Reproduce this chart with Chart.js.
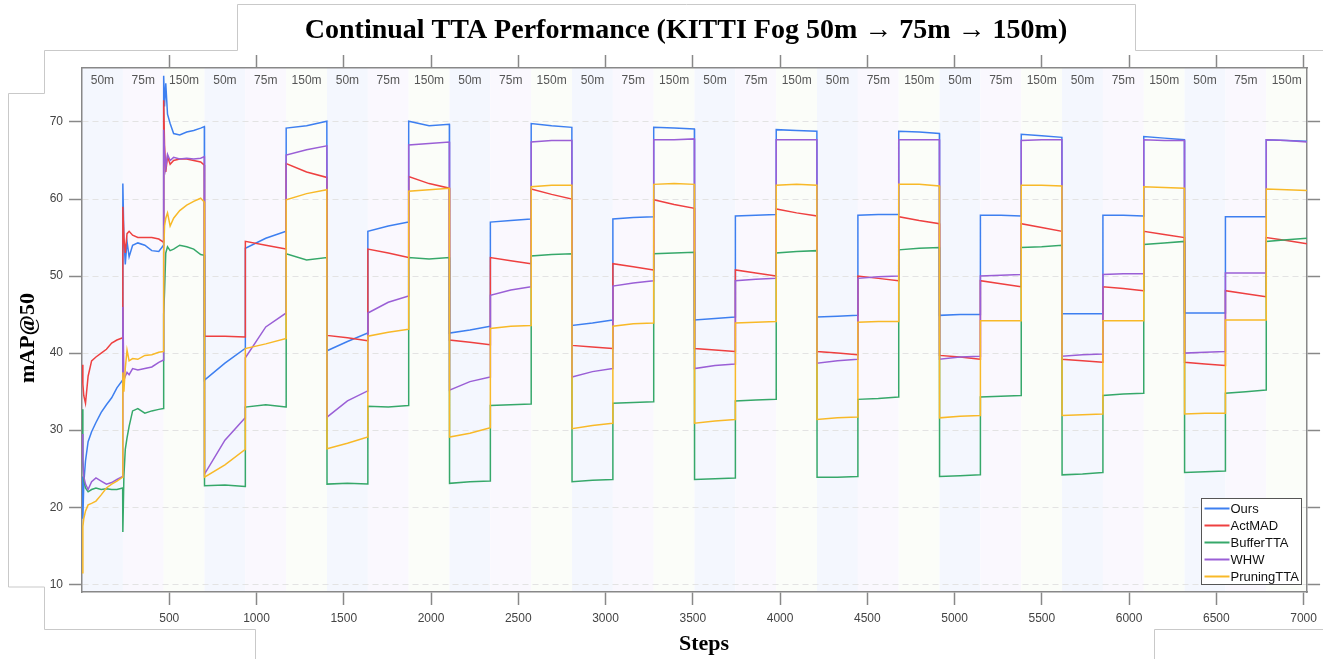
<!DOCTYPE html>
<html lang="en">
<head>
<meta charset="UTF-8">
<title>Continual TTA Performance</title>
<script src="https://cdn.jsdelivr.net/npm/chart.js"></script>
<style>
  * { margin: 0; padding: 0; box-sizing: border-box; }
  body { background: #fff; width: 1323px; height: 659px; overflow: hidden; }
  canvas { display: block; }
</style>
</head>
<body>
<canvas id="tta" width="1323" height="659"></canvas>
<script>
// sampled steps: dense in the first cycle, then start / middle / end of every phase
const steps = [
  0, 5, 10, 20, 35, 55, 80, 110, 140, 170, 200, 233,
  234, 240, 248, 258, 270, 290, 320, 360, 400, 440, 467,
  468, 473, 480, 490, 505, 525, 560, 600, 640, 680, 701,
  702, 819, 935, 936, 1053, 1169, 1170, 1287, 1403,
  1404, 1521, 1637, 1638, 1755, 1871, 1872, 1989, 2105,
  2106, 2223, 2339, 2340, 2457, 2573, 2574, 2691, 2807,
  2808, 2925, 3041, 3042, 3159, 3275, 3276, 3393, 3509,
  3510, 3627, 3743, 3744, 3861, 3977, 3978, 4095, 4211,
  4212, 4329, 4445, 4446, 4563, 4679, 4680, 4797, 4913,
  4914, 5031, 5147, 5148, 5265, 5381, 5382, 5499, 5615,
  5616, 5733, 5849, 5850, 5967, 6083, 6084, 6201, 6317,
  6318, 6435, 6551, 6552, 6669, 6785, 6786, 6903, 7019
];

const ours = [
  24, 18.5, 23, 26, 28.5, 29.8, 31, 32.3, 33.3, 34.2, 35.5, 36.5,
  62, 55, 51.5, 54.5, 52.5, 54, 54.3, 54, 53.3, 53.2, 54,
  76, 72, 75, 71, 69.8, 68.5, 68.3, 68.7, 68.9, 69.2, 69.4,
  36.5, 38.7, 40.6, 53.6, 54.9, 55.8, 69.2, 69.5, 70.1,
  40.3, 41.5, 42.6, 55.8, 56.5, 57.0, 70.1, 69.5, 69.7,
  42.6, 43.0, 43.5, 57.0, 57.2, 57.4, 69.8, 69.5, 69.3,
  43.6, 43.9, 44.3, 57.4, 57.6, 57.7, 69.3, 69.2, 69.1,
  44.3, 44.5, 44.7, 57.8, 57.9, 58.0, 69.0, 68.9, 68.8,
  44.7, 44.8, 44.9, 57.9, 58.0, 58.0, 68.8, 68.7, 68.5,
  44.9, 45.0, 45.0, 57.9, 57.9, 57.8, 68.4, 68.2, 68.0,
  45.1, 45.1, 45.1, 57.9, 57.9, 57.8, 68.1, 67.9, 67.7,
  45.2, 45.2, 45.2, 57.7, 57.7, 57.7, 67.7, 67.6, 67.5
];

const actmad = [
  38.5, 36, 34.5, 33.5, 37, 39, 39.5, 40, 40.5, 41.3, 41.7, 42,
  59, 55, 53, 55.5, 55.8, 55.3, 55, 55, 55, 54.8, 54.4,
  72.8, 67, 63.5, 65.5, 64.5, 65, 65.2, 65.2, 65, 64.8, 64.4,
  42.2, 42.2, 42.1, 54.5, 54.0, 53.5, 64.6, 63.5, 62.8,
  42.3, 42.0, 41.6, 53.5, 53.0, 52.4, 62.9, 62.0, 61.4,
  41.7, 41.4, 41.1, 52.4, 52.0, 51.6, 61.3, 60.6, 60.0,
  41.0, 40.8, 40.6, 51.6, 51.2, 50.8, 59.9, 59.3, 58.8,
  40.6, 40.4, 40.2, 50.8, 50.4, 50.0, 58.7, 58.2, 57.8,
  40.2, 40.0, 39.8, 50.0, 49.7, 49.4, 57.7, 57.2, 56.8,
  39.7, 39.5, 39.2, 49.4, 49.0, 48.6, 56.8, 56.3, 55.8,
  39.2, 39.0, 38.8, 48.6, 48.4, 48.1, 55.8, 55.4, 55.0,
  38.8, 38.6, 38.4, 48.1, 47.7, 47.3, 55.0, 54.6, 54.2
];

const buffertta = [
  32.7, 26, 23.5, 22.5, 22, 22.3, 22.5, 22.3, 22.4, 22.3, 22.3, 22.5,
  16.8, 24, 27.5, 29, 30.5, 32.5, 32.8, 32.2, 32.5, 32.7, 32.8,
  45, 48, 53, 53.8, 53.3, 53.5, 54, 53.8, 53.5, 52.8, 52.7,
  22.8, 22.9, 22.7, 33.0, 33.3, 33.0, 52.9, 52.1, 52.4,
  23.0, 23.1, 23.0, 33.1, 33.0, 33.2, 52.4, 52.2, 52.4,
  23.1, 23.3, 23.4, 33.2, 33.3, 33.4, 52.6, 52.8, 52.9,
  23.3, 23.5, 23.6, 33.5, 33.6, 33.7, 52.9, 53.0, 53.1,
  23.6, 23.7, 23.8, 33.8, 33.9, 34.0, 53.0, 53.2, 53.3,
  23.9, 23.9, 24.0, 34.0, 34.1, 34.3, 53.4, 53.6, 53.7,
  24.0, 24.1, 24.2, 34.3, 34.4, 34.5, 53.7, 53.8, 54.0,
  24.2, 24.3, 24.5, 34.5, 34.7, 34.8, 54.1, 54.3, 54.5,
  24.5, 24.6, 24.7, 34.8, 35.0, 35.2, 54.5, 54.7, 54.9
];

const whw = [
  29.5, 26, 24, 23, 22.3, 23.3, 23.8, 23.4, 23, 23.2, 23.6, 24,
  46, 36.5, 37, 37.5, 37.2, 38, 37.8, 38, 38.2, 38.8, 39.1,
  69, 66, 64, 65.8, 65, 65.4, 65.2, 65.3, 65.2, 65.3, 65.5,
  24.3, 28.7, 31.6, 39.4, 43.4, 45.2, 65.7, 66.4, 66.9,
  31.7, 33.8, 35.1, 45.2, 46.6, 47.4, 67.0, 67.2, 67.4,
  35.2, 36.3, 36.9, 47.5, 48.2, 48.6, 67.4, 67.6, 67.6,
  36.9, 37.6, 38.0, 48.7, 49.1, 49.4, 67.7, 67.7, 67.8,
  38.0, 38.4, 38.6, 49.4, 49.6, 49.7, 67.7, 67.7, 67.7,
  38.7, 39.0, 39.2, 49.7, 49.9, 50.0, 67.7, 67.7, 67.7,
  39.2, 39.5, 39.6, 50.0, 50.1, 50.2, 67.6, 67.7, 67.7,
  39.6, 39.8, 39.9, 50.2, 50.3, 50.3, 67.7, 67.6, 67.6,
  40.0, 40.1, 40.2, 50.4, 50.4, 50.4, 67.7, 67.6, 67.4
];

const pruningtta = [
  11.5, 17.5, 18.5, 19.5, 20.3, 20.5, 20.8, 21.6, 22.5, 23, 23.4, 23.9,
  37.5, 35, 38, 40.4, 39, 39.3, 39.2, 39.7, 39.8, 40.1, 40.2,
  53, 56.5, 57.5, 58.2, 56.5, 57.5, 58.5, 59.2, 59.7, 60.1, 59.6,
  23.9, 25.5, 27.5, 40.6, 41.2, 41.9, 59.9, 60.7, 61.2,
  27.6, 28.3, 29.1, 42.2, 42.7, 43.1, 61.0, 61.2, 61.4,
  29.1, 29.6, 30.3, 43.2, 43.5, 43.6, 61.6, 61.8, 61.8,
  30.2, 30.6, 30.9, 43.5, 43.8, 43.9, 61.9, 62.0, 61.9,
  30.9, 31.2, 31.4, 43.9, 44.0, 44.1, 61.8, 61.9, 61.8,
  31.4, 31.6, 31.7, 44.0, 44.1, 44.1, 61.9, 61.9, 61.7,
  31.6, 31.8, 31.9, 44.2, 44.2, 44.2, 61.8, 61.8, 61.7,
  31.9, 32.0, 32.1, 44.2, 44.2, 44.2, 61.6, 61.5, 61.4,
  32.1, 32.2, 32.2, 44.3, 44.3, 44.3, 61.3, 61.2, 61.1
];

const seriesNames = ['Ours', 'ActMAD', 'BufferTTA', 'WHW', 'PruningTTA'];
const phases = ['50m', '75m', '150m'];
const phaseLength = 234;
const cycles = 10;
const xTicks = [500, 1000, 1500, 2000, 2500, 3000, 3500, 4000, 4500, 5000, 5500, 6000, 6500, 7000];
const yTicks = [10, 20, 30, 40, 50, 60, 70];

const colors = ['#3d7ff0', '#ee4040', '#36a86a', '#9a5fd6', '#f8b928'];
const bandColors = ['#f4f7fe', '#faf8fe', '#fbfdf9'];
const axisGray = '#888';
const labelFont = 'Liberation Sans, Arial, sans-serif';
const serifFont = '"Liberation Serif", "Times New Roman", serif';

function toPoints(vals) {
  return vals.map((v, i) => ({ x: steps[i], y: v }));
}

const allSeries = [ours, actmad, buffertta, whw, pruningtta];
const datasets = allSeries.map((vals, i) => ({
  label: seriesNames[i],
  data: toPoints(vals),
  borderColor: colors[i],
  borderWidth: 1.5,
  pointRadius: 0,
  tension: 0,
  fill: false,
  order: allSeries.length - i
}));

const fogDecor = {
  id: 'fogDecor',
  beforeDraw(chart) {
    const { ctx, chartArea: a, scales: { x } } = chart;
    ctx.save();
    ctx.fillStyle = '#fff';
    ctx.fillRect(0, 0, chart.width, chart.height);
    for (let k = 0; k < cycles * phases.length; k++) {
      const x0 = x.getPixelForValue(k * phaseLength);
      const x1 = x.getPixelForValue((k + 1) * phaseLength);
      ctx.fillStyle = bandColors[k % phases.length];
      ctx.fillRect(x0, a.top, x1 - x0, a.bottom - a.top);
    }
    ctx.restore();
  },
  beforeDatasetsDraw(chart) {
    const { ctx, chartArea: a, scales: { x } } = chart;
    ctx.save();
    ctx.font = '12px ' + labelFont;
    ctx.fillStyle = '#555';
    ctx.textAlign = 'center';
    ctx.textBaseline = 'middle';
    for (let k = 0; k < cycles * phases.length; k++) {
      const cx = x.getPixelForValue((k + 0.5) * phaseLength);
      ctx.fillText(phases[k % phases.length], cx, a.top + 12.5);
    }
    ctx.restore();
  },
  afterDraw(chart) {
    const { ctx } = chart;
    ctx.save();

    // leftover frame lines of the pasted figure
    ctx.strokeStyle = '#c9c9c9';
    ctx.lineWidth = 1;
    const paths = [
      [[8.5, 587], [8.5, 93.5], [44.5, 93.5], [44.5, 50.5], [237.5, 50.5], [237.5, 4.5],
       [1135.5, 4.5], [1135.5, 50.5], [1323, 50.5]],
      [[8.5, 587], [44.5, 587], [44.5, 629.5], [255.5, 629.5], [255.5, 659]],
      [[1323, 629.5], [1154.5, 629.5], [1154.5, 659]]
    ];
    paths.forEach(p => {
      ctx.beginPath();
      ctx.moveTo(p[0][0], p[0][1]);
      p.slice(1).forEach(q => ctx.lineTo(q[0], q[1]));
      ctx.stroke();
    });

    // titles
    ctx.fillStyle = '#000';
    ctx.textAlign = 'center';
    ctx.textBaseline = 'alphabetic';
    ctx.font = 'bold 28px ' + serifFont;
    ctx.fillText('Continual TTA Performance (KITTI Fog 50m \u2192 75m \u2192 150m)', 686, 38);
    ctx.font = 'bold 22px ' + serifFont;
    ctx.textBaseline = 'middle';
    ctx.fillText('Steps', 704, 644);
    ctx.save();
    ctx.translate(28, 338);
    ctx.rotate(-Math.PI / 2);
    ctx.fillText('mAP@50', 0, 0);
    ctx.restore();

    // legend box
    const lx = 1201.5, ly = 498.5, lw = 100, lh = 86;
    ctx.fillStyle = '#fff';
    ctx.fillRect(lx, ly, lw, lh);
    ctx.strokeStyle = '#555';
    ctx.lineWidth = 1;
    ctx.strokeRect(lx, ly, lw, lh);
    ctx.font = '13px ' + labelFont;
    ctx.textAlign = 'left';
    ctx.textBaseline = 'middle';
    chart.data.datasets.forEach((ds, i) => {
      const ry = 508.5 + i * 17;
      ctx.strokeStyle = ds.borderColor;
      ctx.lineWidth = 2;
      ctx.beginPath();
      ctx.moveTo(lx + 3, ry);
      ctx.lineTo(lx + 28, ry);
      ctx.stroke();
      ctx.fillStyle = '#111';
      ctx.fillText(ds.label, lx + 29, ry + 0.5);
    });
    ctx.restore();
  }
};

const tickFont = { family: labelFont, size: 12 };
const markGrid = { drawOnChartArea: false, drawTicks: true, tickLength: 13, tickColor: axisGray, tickWidth: 1.5 };
const frame = { color: axisGray, width: 1.5 };

new Chart(document.getElementById('tta'), {
  type: 'line',
  data: { datasets: datasets },
  plugins: [fogDecor],
  options: {
    responsive: false,
    animation: false,
    layout: { padding: 0 },
    plugins: { legend: { display: false }, tooltip: { enabled: false }, title: { display: false } },
    scales: {
      x: {
        type: 'linear', position: 'bottom', min: 0, max: 7020,
        afterBuildTicks: s => { s.ticks = xTicks.map(v => ({ value: v })); },
        afterFit: s => { s.height = 67; },
        ticks: { font: tickFont, color: '#444', padding: 6, maxRotation: 0, autoSkip: false, callback: v => String(v) },
        grid: markGrid,
        border: frame
      },
      xTop: {
        type: 'linear', position: 'top', min: 0, max: 7020,
        afterBuildTicks: s => { s.ticks = xTicks.map(v => ({ value: v })); },
        afterFit: s => { s.height = 68; },
        ticks: { display: false },
        grid: markGrid,
        border: frame
      },
      y: {
        type: 'linear', position: 'left', min: 9, max: 77,
        afterBuildTicks: s => { s.ticks = yTicks.map(v => ({ value: v })); },
        afterFit: s => { s.width = 82; },
        ticks: { font: tickFont, color: '#444', padding: 6, callback: v => String(v) },
        grid: { drawOnChartArea: true, color: '#e3e3e3', lineWidth: 1, drawTicks: true, tickLength: 13,
                tickColor: axisGray, tickWidth: 1.5, tickBorderDash: [] },
        border: { color: axisGray, width: 1.5, dash: [6, 4] }
      },
      yRight: {
        type: 'linear', position: 'right', min: 9, max: 77,
        afterBuildTicks: s => { s.ticks = yTicks.map(v => ({ value: v })); },
        afterFit: s => { s.width = 15; },
        ticks: { display: false },
        grid: markGrid,
        border: frame
      }
    }
  }
});
</script>
</body>
</html>
